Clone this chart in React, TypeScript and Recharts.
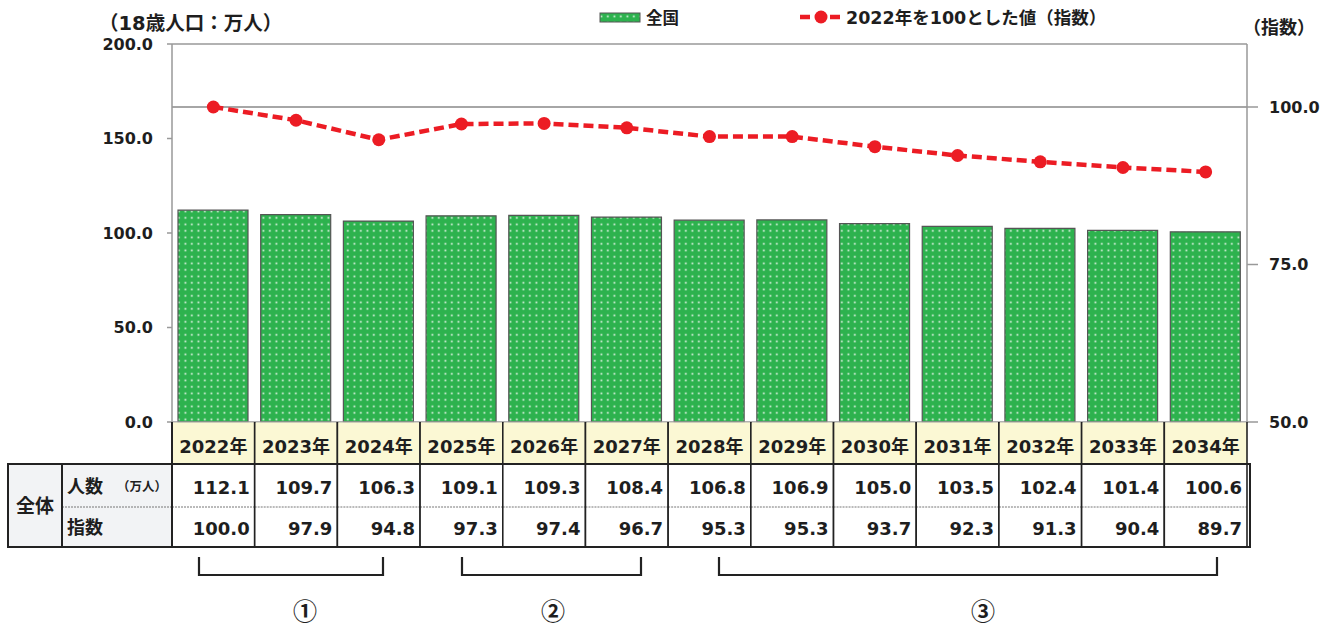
import React from 'react';
import { ComposedChart, Bar, Line, XAxis, YAxis, ReferenceLine } from 'recharts';

const years = ['2022年', '2023年', '2024年', '2025年', '2026年', '2027年', '2028年', '2029年', '2030年', '2031年', '2032年', '2033年', '2034年'];
const population = [112.1, 109.7, 106.3, 109.1, 109.3, 108.4, 106.8, 106.9, 105.0, 103.5, 102.4, 101.4, 100.6];
const indexValues = [100.0, 97.9, 94.8, 97.3, 97.4, 96.7, 95.3, 95.3, 93.7, 92.3, 91.3, 90.4, 89.7];
const leftTicks = [0, 50, 100, 150, 200];
const rightTicks = [50, 75, 100];
const seriesNames = ['全国', '2022年を100とした値（指数）'];
const rowLabels = ['全体', '人数', '（万人）', '指数'];
const groupLabels = ['①', '②', '③'];

const data = years.map((y, i) => ({ year: y, population: population[i], index: indexValues[i] }));

const FONT = "'DejaVu Sans', 'Noto Sans CJK JP', sans-serif";
const CJK = "'Noto Sans CJK JP', sans-serif";
const TXT = '#1e1e1e';
const GREEN = '#2DB24E';
const RED = '#EC1C24';

const W = 1336;
const H = 630;
const PLOT_L = 172;
const PLOT_R = 1247;
const BAND = (PLOT_R - PLOT_L) / years.length;
const AXIS_Y = 422;
const HEAD_B = 464;
const ROW_MID = 507;
const TABLE_B = 547;

function TableTick(props: any) {
  const { x, payload } = props;
  const i = payload.index;
  const left = x - BAND / 2;
  const right = x + BAND / 2;
  return (
    <g>
      <rect x={left} y={AXIS_Y + 0.5} width={BAND} height={HEAD_B - AXIS_Y - 0.5} fill="#FBF8D4" />
      <rect x={left} y={HEAD_B} width={BAND} height={TABLE_B - HEAD_B} fill="#ffffff" />
      <text x={x} y={453} textAnchor="middle" fontFamily={FONT} fontWeight={700} fontSize={18} fill={TXT}>
        {years[i]}
      </text>
      <text x={right - 5} y={494} textAnchor="end" fontFamily={FONT} fontWeight={700} fontSize={18} fill={TXT}>
        {population[i].toFixed(1)}
      </text>
      <text x={right - 5} y={535} textAnchor="end" fontFamily={FONT} fontWeight={700} fontSize={18} fill={TXT}>
        {indexValues[i].toFixed(1)}
      </text>
      <line x1={left} x2={right} y1={ROW_MID} y2={ROW_MID} stroke="#777" strokeWidth={1} strokeDasharray="2 1" />
      <line x1={left} x2={left} y1={AXIS_Y} y2={TABLE_B} stroke="#222" strokeWidth={1.6} />
      <line x1={right} x2={right} y1={AXIS_Y} y2={TABLE_B} stroke="#222" strokeWidth={1.6} />
      <line x1={left} x2={right} y1={HEAD_B} y2={HEAD_B} stroke="#222" strokeWidth={1.6} />
    </g>
  );
}

function Bracket({ x1, x2, label, lx }: { x1: number; x2: number; label: string; lx: number }) {
  return (
    <g>
      <path d={`M${x1},557 V575 H${x2} V557`} fill="none" stroke="#222" strokeWidth={2.2} />
      <text x={lx} y={620} textAnchor="middle" fontFamily={CJK} fontWeight={700} fontSize={24} fill={TXT}>
        {label}
      </text>
    </g>
  );
}

export default function App() {
  return (
    <div style={{ position: 'absolute', left: 0, top: 0, width: W, height: H, background: '#fff', overflow: 'hidden' }}>
      <svg width={0} height={0} style={{ position: 'absolute' }}>
        <defs>
          <pattern id="dots" width="6.5" height="6.5" patternUnits="userSpaceOnUse">
            <rect width="6.5" height="6.5" fill={GREEN} />
            <rect x="2.5" y="2.5" width="1.7" height="1.7" fill="#E6F5E9" />
          </pattern>
        </defs>
      </svg>
      <ComposedChart width={W} height={H} data={data} margin={{ top: 44, right: 0, bottom: 0, left: 0 }}>
        <XAxis
          dataKey="year"
          interval={0}
          tickLine={false}
          axisLine={{ stroke: '#999', strokeWidth: 1.5 }}
          height={H - AXIS_Y}
          tick={(p: any) => <TableTick {...p} />}
        />
        <YAxis
          yAxisId="left"
          domain={[0, 200]}
          ticks={leftTicks}
          width={PLOT_L}
          tickSize={5}
          tickMargin={14}
          axisLine={{ stroke: '#999', strokeWidth: 1.5 }}
          tickLine={{ stroke: '#999', strokeWidth: 1.5 }}
          tick={{ fontSize: 16, fontWeight: 700, fill: TXT, fontFamily: FONT }}
          tickFormatter={(v: number) => v.toFixed(1)}
        />
        <YAxis
          yAxisId="right"
          orientation="right"
          domain={[50, 110]}
          ticks={rightTicks}
          width={W - PLOT_R}
          tickSize={11}
          tickMargin={11}
          axisLine={{ stroke: '#999', strokeWidth: 1.5 }}
          tickLine={{ stroke: '#999', strokeWidth: 1.5 }}
          tick={{ fontSize: 16, fontWeight: 700, fill: TXT, fontFamily: FONT }}
          tickFormatter={(v: number) => v.toFixed(1)}
        />
        <ReferenceLine yAxisId="left" y={200} stroke="#999" strokeWidth={1.5} />
        <ReferenceLine yAxisId="right" y={100} stroke="#888" strokeWidth={1.5} />
        <Bar yAxisId="left" dataKey="population" barSize={70} fill="url(#dots)" stroke="#555" strokeWidth={1.2} isAnimationActive={false} />
        <Line
          yAxisId="right"
          dataKey="index"
          stroke={RED}
          strokeWidth={4.5}
          strokeDasharray="10 5"
          dot={{ r: 6.5, fill: RED, stroke: 'none' }}
          activeDot={false}
          isAnimationActive={false}
        />
      </ComposedChart>
      <svg width={W} height={H} style={{ position: 'absolute', left: 0, top: 0, pointerEvents: 'none' }}>
        <text x={99} y={30} fontFamily={FONT} fontWeight={700} fontSize={19.5} fill={TXT}>（18歳人口：万人）</text>
        <text x={1279} y={34} textAnchor="middle" fontFamily={CJK} fontWeight={700} fontSize={18} fill={TXT}>（指数）</text>
        <rect x={600} y={13} width={40} height={9} fill="url(#dots)" stroke="#555" strokeWidth={1} />
        <text x={646} y={24} fontFamily={CJK} fontWeight={700} fontSize={16.5} fill={TXT}>{seriesNames[0]}</text>
        <line x1={800} x2={840} y1={17} y2={17} stroke={RED} strokeWidth={4.5} strokeDasharray="10 5" />
        <circle cx={821} cy={17} r={6.5} fill={RED} />
        <text x={846} y={24} fontFamily={FONT} fontWeight={700} fontSize={17.5} fill={TXT}>{seriesNames[1]}</text>
        <rect x={8} y={HEAD_B} width={PLOT_L - 8} height={TABLE_B - HEAD_B} fill="#F2F3F5" />
        <line x1={62} x2={PLOT_L} y1={ROW_MID} y2={ROW_MID} stroke="#777" strokeWidth={1} strokeDasharray="2 1" />
        <text x={35} y={513} textAnchor="middle" fontFamily={CJK} fontWeight={700} fontSize={19} fill={TXT}>{rowLabels[0]}</text>
        <text x={67} y={493} fontFamily={CJK} fontWeight={700} fontSize={18} fill={TXT}>{rowLabels[1]}</text>
        <text x={117} y={491} fontFamily={CJK} fontWeight={700} fontSize={12.5} fill={TXT}>{rowLabels[2]}</text>
        <text x={67} y={534} fontFamily={CJK} fontWeight={700} fontSize={18} fill={TXT}>{rowLabels[3]}</text>
        <rect x={8} y={HEAD_B} width={PLOT_R + 3 - 8} height={TABLE_B - HEAD_B} fill="none" stroke="#222" strokeWidth={2} />
        <line x1={62} x2={62} y1={HEAD_B} y2={TABLE_B} stroke="#222" strokeWidth={2} />
        <line x1={PLOT_L} x2={PLOT_L} y1={AXIS_Y} y2={TABLE_B} stroke="#222" strokeWidth={2} />
        <Bracket x1={199} x2={383} label={groupLabels[0]} lx={305} />
        <Bracket x1={462} x2={641} label={groupLabels[1]} lx={553} />
        <Bracket x1={719} x2={1217} label={groupLabels[2]} lx={983} />
      </svg>
    </div>
  );
}
